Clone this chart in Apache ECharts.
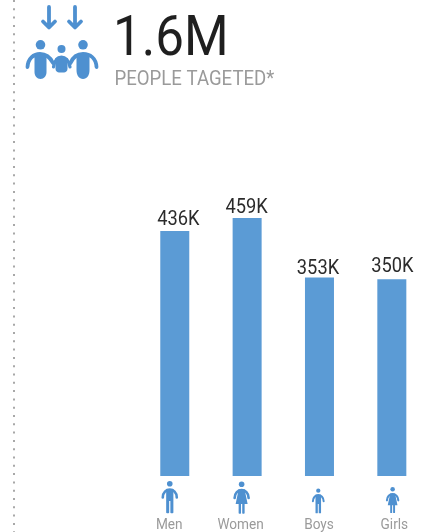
<!DOCTYPE html>
<html><head><meta charset="utf-8">
<style>html,body{margin:0;padding:0;background:#fff}#c{width:428px;height:532px}</style>
<script src="https://cdn.jsdelivr.net/npm/echarts@6/dist/echarts.min.js"></script></head>
<body><div id="c"></div>
<script>
const categories = ['Men', 'Women', 'Boys', 'Girls'];
const values = [436, 459, 353, 350];
const valueLabels = ['436K', '459K', '353K', '350K'];
const headline = '1.6M';
const subline = 'PEOPLE TAGETED*';

const BAR = '#5b9bd5', ICON = '#4e90d0';
const valueNudge = [3.5, -0.5, -1.5, 0.5];
const valueLift = [11.5, 10.3, 8.5, 12.5];
const nameNudge = [-5.5, -6.5, -0.5, 2.5];
const iconNudge = [-5, -5.5, -1.2, 0.8];
const iconKinds = ['m', 'f', 'm', 'f'];
const iconTop = [481, 481.5, 488.5, 487];
const iconScale = [1, 1, 0.77, 0.81];

const chart = echarts.init(document.getElementById('c'), null, {renderer: 'canvas'});

const textOnBar = (text, x, y, font, fill, scale) => ({
  type: 'text', x, y, scaleX: scale,
  style: {text, font, fill, align: 'center', verticalAlign: 'middle'}
});
chart.setOption({
  animation: false,
  grid: {left: 138.6, right: 0, top: 26.4, bottom: 56},
  xAxis: {type: 'category', data: categories,
    axisLine: {show: false}, axisTick: {show: false}, axisLabel: {show: false}},
  yAxis: {type: 'value', min: 0, max: 800, show: false},
  series: [{
    type: 'bar', barWidth: 29, itemStyle: {color: BAR}, data: values
  }, {
    type: 'custom', silent: true, clip: false,
    data: values.map((v, i) => [i, v]),
    renderItem: (params, api) => {
      const i = api.value(0);
      const top = api.coord([i, api.value(1)]);
      const base = api.coord([i, 0]);
      return {type: 'group', children: [
        textOnBar(valueLabels[i], top[0] + valueNudge[i], top[1] - valueLift[i], '400 21px Roboto', '#2b2b2b', 0.87),
        textOnBar(categories[i], base[0] + nameNudge[i], base[1] + 49.5, '400 15.5px Roboto', '#9a9a9a', 0.88)
      ]};
    }
  }]
});

let pathCount = 0;
function pathEl(d, style) {
  const name = 'iconPath' + pathCount++;
  echarts.graphic.registerShape(name, echarts.graphic.extendPath(d, {}));
  return {type: name, style};
}
const fillPath = d => pathEl(d, {fill: ICON});
const stroke = (d, w) => pathEl(d, {fill: 'none', stroke: ICON, lineWidth: w, lineCap: 'round', lineJoin: 'round'});
const dot = (x, y, r) => ({type: 'circle', shape: {cx: x, cy: y, r}, style: {fill: ICON}});

function person(cx, top, s, kind) {
  const kids = [
    dot(0, 2.8, 2.8),
    stroke('M-7 16.5C-7 11.5-3.5 8.6 0 8.6C3.5 8.6 7 11.5 7 16.5', 2.6)
  ];
  kids.push(fillPath(kind === 'm'
    ? 'M-3.6 8L3.6 8L3.6 31.4Q3.6 32.2 2.7 32.2L1.4 32.2Q0.6 32.2 0.6 31.4L0.6 20L-0.6 20L-0.6 31.4Q-0.6 32.2-1.4 32.2L-2.7 32.2Q-3.6 32.2-3.6 31.4Z'
    : 'M-3 8L3 8L6 22.5L3 22.5L3 31.4Q3 32.2 2.2 32.2L1.2 32.2Q0.6 32.2 0.6 31.4L0.6 22.5L-0.6 22.5L-0.6 31.4Q-0.6 32.2-1.2 32.2L-2.2 32.2Q-3 32.2-3 31.4L-3 22.5L-6 22.5Z'));
  return {type: 'group', x: cx, y: top, scaleX: s, scaleY: s, children: kids};
}

const graphics = [
  {type: 'line', shape: {x1: 14, y1: 0, x2: 14, y2: 532}, style: {stroke: '#a8a8a8', lineWidth: 2, lineDash: [2, 6.3]}},
  stroke('M49 7L49 27M43 21.5L49 27.5L55 21.5', 3.8),
  stroke('M75 7L75 27M69 21.5L75 27.5L81 21.5', 3.8),
  dot(40.5, 44.8, 4.8), dot(83, 44.8, 4.8), dot(61.5, 49, 4),
  stroke('M27.5 67C28 58 34 54 40 54C46 54 50 57 53 63', 3.8),
  stroke('M70.5 63C73 57 78 54 83 54C90 54 96 58 96.5 67', 3.8),
  fillPath('M34.5 54L46.5 54L46.5 72C46.5 76 44 79 40.5 79C37 79 34.5 76 34.5 72Z'),
  fillPath('M76.5 54L89.5 54L89.5 70C89.5 75.5 87 79 83 79C79 79 76.5 75.5 76.5 70Z'),
  stroke('M53.5 67C54.5 60 58 57 61.5 57C65 57 69 60 70 67', 3.2),
  fillPath('M55.5 58L67.5 58L67.5 69C67.5 71 65.5 72.5 64 72.5L59 72.5C57.5 72.5 55.5 71 55.5 69Z'),
  {type: 'text', x: 113, y: 41, scaleX: 0.93, style: {text: headline, font: '400 55px Roboto', fill: '#1f1f1f', verticalAlign: 'middle'}},
  {type: 'text', x: 114.5, y: 80, scaleX: 0.93, style: {text: subline, font: '400 20px Roboto', fill: '#9a9a9a', verticalAlign: 'middle'}}
];
categories.forEach((c, i) => {
  const x = chart.convertToPixel({xAxisIndex: 0}, c) + iconNudge[i];
  graphics.push(person(x, iconTop[i], iconScale[i], iconKinds[i]));
});
chart.setOption({graphic: graphics});
</script></body></html>
